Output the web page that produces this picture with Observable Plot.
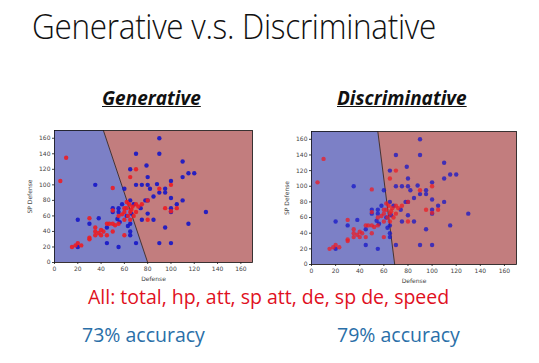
<!DOCTYPE html>
<html>
<head>
<meta charset="utf-8">
<script src="https://cdn.jsdelivr.net/npm/d3@7"></script>
<script src="https://cdn.jsdelivr.net/npm/@observablehq/plot@0.6"></script>
<style>
  html, body { margin: 0; padding: 0; background: #fff; }
  #page { position: relative; width: 539px; height: 363px; overflow: hidden; background: #fff; font-family: "Open Sans", "Noto Sans", sans-serif; }
  .t { position: absolute; white-space: nowrap; }
  #title { left: 32px; top: 2px; font-size: 31.5px; font-weight: 300; color: #111; letter-spacing: -0.3px; transform: scale(1, 1.08); transform-origin: 0 0; }
  .sub { font-size: 19px; font-weight: bold; font-style: italic; text-decoration: underline; color: #111; top: 85px; }
  #red { left: 88px; top: 283px; font-size: 19.5px; color: #e0101e; }
  .acc { font-size: 19.5px; color: #2a6fa8; top: 321px; }
  .plot { position: absolute; }
</style>
</head>
<body>
<div id="page">
  <div class="t" id="title">Generative v.s. Discriminative</div>
  <div class="t sub" style="left:102px">Generative</div>
  <div class="t sub" style="left:337px">Discriminative</div>
  <div class="plot" id="left" style="left:17px; top:126px"></div>
  <div class="plot" id="right" style="left:274px; top:127px"></div>
  <div class="t" id="red">All: total, hp, att, sp att, de, sp de, speed</div>
  <div class="t acc" style="left:82px">73% accuracy</div>
  <div class="t acc" style="left:337px">79% accuracy</div>
</div>
<script>
// Axis domain and ticks
const domain = [0, 170];
const ticks = [0, 20, 40, 60, 80, 100, 120, 140, 160];

// Class 1 (blue) points: Defense, SP Defense
const blueX = [90,70,90,79,110,65,80,110,115,120,35,60,70,75,80,82,88,90,95,95,100,85,80,78,100,65,68,110,105,58,50,55,50,55,100,100,74,130,80,20,38,54,56,75,85,65,63,30,45,115,95,65,65,45,55,20,70,90,100,62,66];
const blueY = [160,140,140,125,130,120,110,110,115,115,100,95,100,100,100,95,101,90,95,90,105,85,80,80,83,80,75,80,75,75,70,70,65,65,70,65,70,65,63,55,57,56,52,55,55,50,47,50,45,50,45,40,35,25,20,20,25,25,25,60,63];

// Class 2 (red) points
const redX = [10,5,50,70,65,90,100,80,70,75,64,62,60,65,63,68,70,60,66,72,58,95,105,100,80,60,30,35,35,38,40,42,40,45,47,50,52,50,30,30,15,20,23,18,45,55,60,50,65,55,35,67,62];
const redY = [135,105,96,120,110,95,100,80,75,75,75,70,65,65,60,60,65,70,68,72,62,70,70,66,55,35,57,45,40,38,42,40,35,35,50,50,48,40,30,32,20,25,22,22,50,60,55,67,55,50,35,72,78];

// Decision boundaries (Defense at SP Defense = 0 and 170)
const genBoundaryX = [80, 42];
const discBoundaryX = [69, 55];
const boundaryY = [0, 170];

const blue = blueX.map((x, i) => ({x, y: blueY[i]}));
const red = redX.map((x, i) => ({x, y: redY[i]}));

function chart(boundaryX, frameW, frameH, opacity) {
  const boundary = boundaryX.map((x, i) => ({x, y: boundaryY[i], x0: domain[0]}));
  const mL = 37, mR = 5, mT = 4, mB = 20;
  return Plot.plot({
    width: frameW + mL + mR,
    height: frameH + mT + mB,
    marginLeft: mL, marginRight: mR, marginTop: mT, marginBottom: mB,
    style: { fontSize: "6px", fontFamily: "DejaVu Sans", color: "#444", background: "transparent" },
    x: { domain, ticks, label: "Defense", labelAnchor: "center", labelArrow: "none", labelOffset: 18, tickSize: 2, tickPadding: 2 },
    y: { domain, ticks, label: "SP Defense", labelAnchor: "center", labelArrow: "none", labelOffset: 27, tickSize: 2, tickPadding: 2 },
    marks: [
      Plot.frame({ fill: "#c27d7e" }),
      Plot.areaX(boundary, { x1: "x0", x2: "x", y: "y", fill: "#7c80c6" }),
      Plot.line(boundary, { x: "x", y: "y", stroke: "#222", strokeWidth: 0.8 }),
      Plot.dot(blue, { x: "x", y: "y", r: 2.2, fill: "#1515c8", fillOpacity: opacity }),
      Plot.dot(red, { x: "x", y: "y", r: 2.2, fill: "#ec1c24", fillOpacity: opacity }),
      Plot.frame({ stroke: "#111", strokeWidth: 0.8 })
    ]
  });
}

document.getElementById("left").append(chart(genBoundaryX, 198, 132, 0.9));
document.getElementById("right").append(chart(discBoundaryX, 205, 133, 0.75));
</script>
</body>
</html>
